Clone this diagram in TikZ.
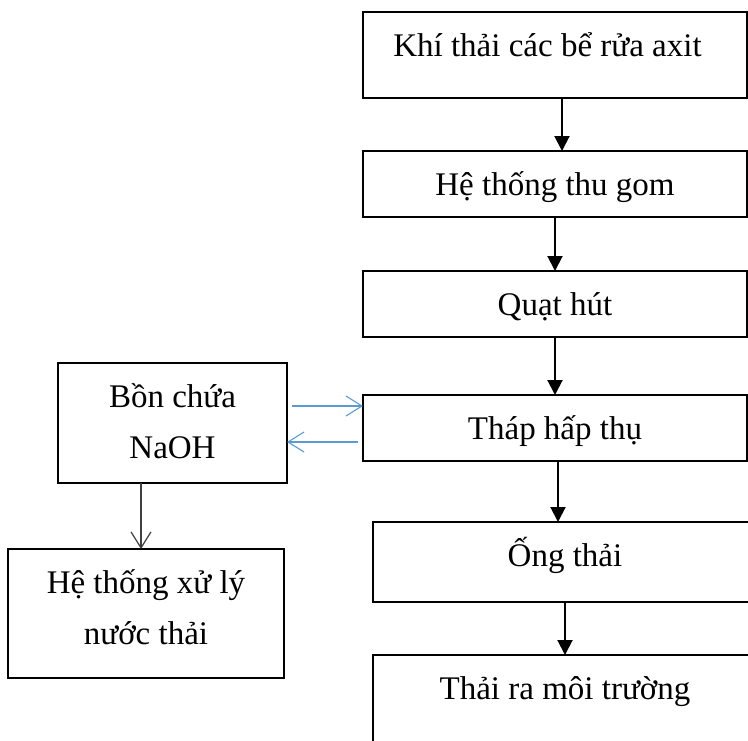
\documentclass[tikz,border=0pt]{standalone}
\usepackage{fontspec}
\setmainfont{Liberation Serif}
\usetikzlibrary{arrows.meta,positioning,calc}
\definecolor{lineblue}{RGB}{91,155,213}
\newcommand{\boxtext}[3]{\parbox[t][#2][t]{#1}{\centering\rule{0pt}{44pt}#3}}

\begin{document}
\begin{tikzpicture}[x=1pt,y=-1pt,
  every node/.style={rectangle,draw,line width=2pt,inner sep=0pt,outer sep=0pt,font=\fontsize{33}{51.5}\selectfont},
  mainarrow/.style={-{Triangle[width=15pt,length=15pt]},line width=2pt},
  drainarrow/.style={-{Straight Barb[width=20pt,length=16pt]},line width=1.2pt,draw=black!75},
  dosearrow/.style={-{Straight Barb[width=20pt,length=16pt]},line width=1.1pt,draw=lineblue}]

\useasboundingbox (0,0) rectangle (748,740);
\clip (0,0) rectangle (748,740);

% Nodes
\node[anchor=north west] (b1) at (363,12) {\boxtext{384pt}{86pt}{Khí thải các bể rửa axit\hspace*{15pt}}};
\node[below=53pt of b1] (b2) {\boxtext{384pt}{66pt}{Hệ thống thu gom}};
\node[below=54pt of b2] (b3) {\boxtext{384pt}{66pt}{Quạt hút}};
\node[below=58pt of b3] (b4) {\boxtext{384pt}{66pt}{Tháp hấp thụ}};
\node[below=61pt of b4,xshift=10pt] (b5) {\boxtext{384pt}{80pt}{Ống thải}};
\node[below=53pt of b5] (b6) {\boxtext{384pt}{90pt}{Thải ra môi trường}};
\node[left=76pt of b4,yshift=5pt] (tank) {\boxtext{229pt}{120pt}{Bồn chứa\\NaOH}};
\node[below=66pt of tank,xshift=-26.5pt] (ww) {\boxtext{276pt}{129pt}{Hệ thống xử lý\\nước thải}};

%arcs
\path ([xshift=7pt]b1.south) edge[mainarrow] ([xshift=7pt]b2.north);
\path (b2.south) edge[mainarrow] (b3.north);
\path (b3.south) edge[mainarrow] (b4.north);
\path ([xshift=3pt]b4.south) edge[mainarrow] ([xshift=-7pt]b5.north);
\path (b5.south) edge[mainarrow] (b6.north);
\path ([xshift=-31.5pt]tank.south) edge[drainarrow] ([xshift=-5pt]ww.north);

% NaOH loop
\path ($(b4.north west)+(-71,11)$) edge[dosearrow] ($(b4.north west)+(0,11)$);
\path ($(b4.south west)+(-5,-19)$) edge[dosearrow] ($(b4.south west)+(-76,-19)$);
\end{tikzpicture}
\end{document}
